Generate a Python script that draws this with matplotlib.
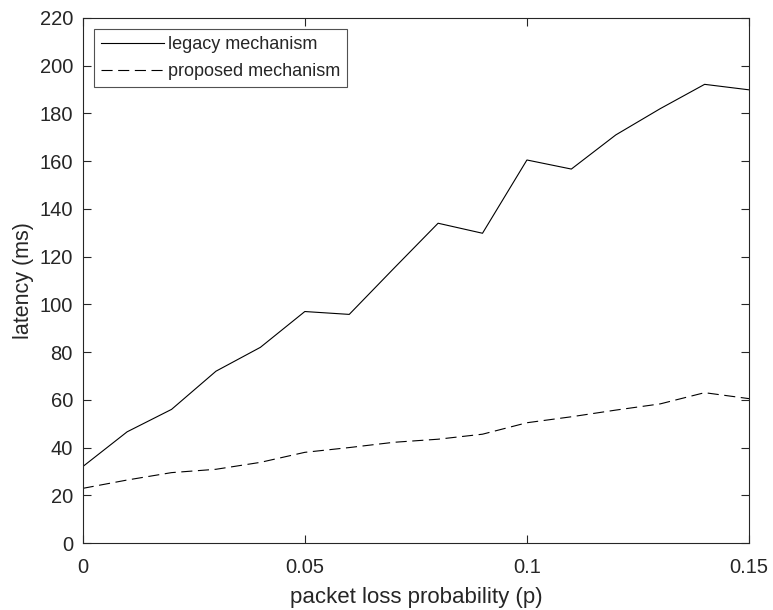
import matplotlib
matplotlib.use("Agg")
import matplotlib.pyplot as plt

# packet loss probability and measured latency (ms)
loss_prob = [0, 0.01, 0.02, 0.03, 0.04, 0.05, 0.06, 0.07,
             0.08, 0.09, 0.10, 0.11, 0.12, 0.13, 0.14, 0.15]
legacy = [32, 46.6, 56, 72, 82, 97, 95.8, 115,
          134, 129.8, 160.5, 156.7, 171, 182, 192.2, 189.9]
proposed = [22.9, 26.4, 29.5, 30.9, 33.8, 38, 40, 42.2,
            43.5, 45.6, 50.4, 52.9, 55.7, 58.3, 63, 60.5]

x_ticks = [0, 0.05, 0.1, 0.15]
x_tick_labels = ["0", "0.05", "0.1", "0.15"]
y_ticks = list(range(0, 221, 20))

axis_color = "#262626"

plt.rcParams["font.family"] = ["Liberation Sans", "DejaVu Sans"]

fig = plt.figure(figsize=(7.73, 6.10), dpi=100)
ax = fig.add_axes([0.107, 0.1098, 0.862, 0.8607])

ax.plot(loss_prob, legacy, color="black", linewidth=0.8, label="legacy mechanism")
ax.plot(loss_prob, proposed, color="black", linewidth=0.8, dashes=(10, 5),
        label="proposed mechanism")

ax.set_xlim(0, 0.15)
ax.set_ylim(0, 220)
ax.set_xticks(x_ticks)
ax.set_xticklabels(x_tick_labels)
ax.set_yticks(y_ticks)

ax.tick_params(direction="in", top=True, right=True, length=6, width=0.8,
               colors=axis_color, labelsize=14.5)
ax.tick_params(axis="x", pad=11)
ax.tick_params(axis="y", pad=7)
for spine in ax.spines.values():
    spine.set_color(axis_color)
    spine.set_linewidth(0.8)

ax.set_xlabel("packet loss probability (p)", fontsize=16, color=axis_color, labelpad=7)
ax.set_ylabel("latency (ms)", fontsize=15.5, color=axis_color, labelpad=4)

leg = ax.legend(loc="upper left", fontsize=13, handlelength=3.5,
                fancybox=False, borderaxespad=0.6, borderpad=0.4,
                labelspacing=0.55, handletextpad=0.2)
leg.get_frame().set_edgecolor(axis_color)
leg.get_frame().set_linewidth(0.8)
for t in leg.get_texts():
    t.set_color(axis_color)

fig.savefig("out.png", dpi=100)
